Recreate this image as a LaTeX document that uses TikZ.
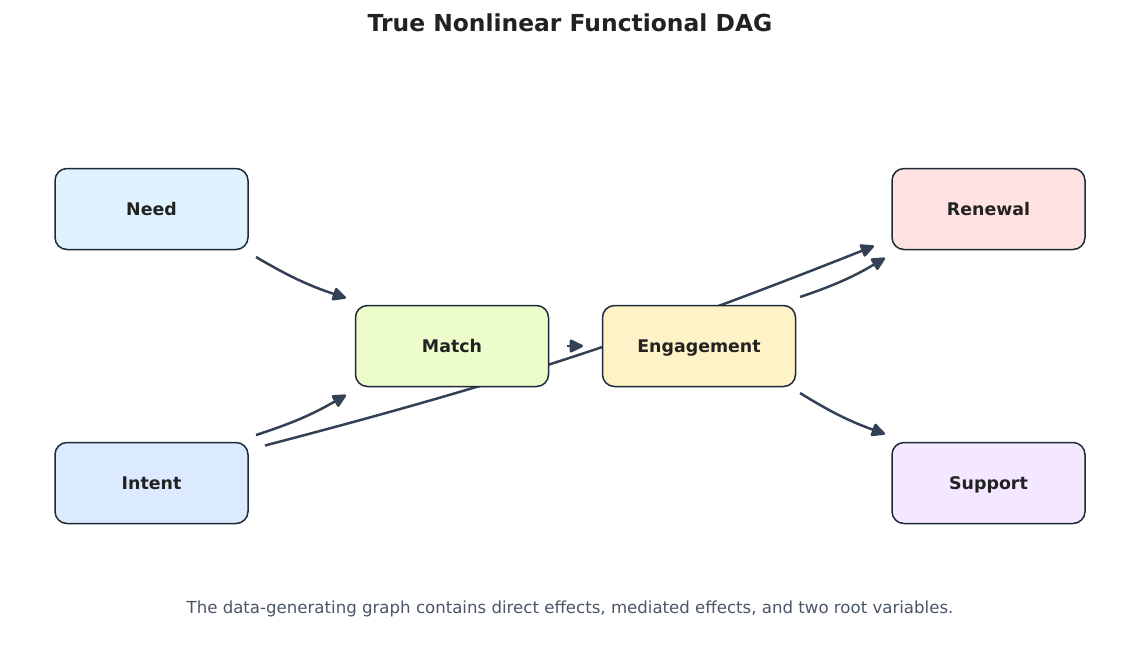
\documentclass[tikz,border=0pt]{standalone}
\usepackage{fontspec}
\setmainfont{DejaVu Sans}
\usetikzlibrary{arrows.meta}
\pgfdeclarelayer{background}
\pgfsetlayers{background,main}
\definecolor{titlec}{HTML}{222222}
\definecolor{capc}{HTML}{4A5568}
\definecolor{edgec}{HTML}{334155}
\definecolor{borderc}{HTML}{1F2937}
\definecolor{needc}{HTML}{E0F2FE}
\definecolor{intentc}{HTML}{DBEAFE}
\definecolor{matchc}{HTML}{ECFCCB}
\definecolor{engc}{HTML}{FEF3C7}
\definecolor{renc}{HTML}{FEE2E2}
\definecolor{supc}{HTML}{F3E8FF}
\tikzset{
  box/.style={draw=borderc, line width=0.75pt, rounded corners=6pt,
    minimum width=96.5pt, minimum height=40.5pt, inner sep=0pt,
    text height=6.35pt, text depth=0pt,
    font=\fontsize{8.7}{10}\selectfont\bfseries, text=titlec},
  arr/.style={draw=edgec, line width=1.25pt,
    -{Triangle[length=7.5pt,width=7pt,round]}}
}
\begin{document}
\begin{tikzpicture}[x=0.5pt,y=-0.5pt]
\useasboundingbox (0,0) rectangle (1140,644);
\node[font=\fontsize{11.7}{14}\selectfont\bfseries, text=titlec] (title) at (570,22.5) {True Nonlinear Functional DAG};
\node[box, fill=needc] (need) at (151.5,209) {Need};
\node[box, fill=intentc] (intent) at (151.5,483) {Intent};
\node[box, fill=matchc] (match) at (452,346) {Match};
\node[box, fill=engc] (eng) at (699,346) {Engagement};
\node[box, fill=renc] (ren) at (988.5,209) {Renewal};
\node[box, fill=supc] (sup) at (988.5,483) {Support};
\node[font=\fontsize{8.3}{10}\selectfont, text=capc] (cap) at (570,608.5) {The data-generating graph contains direct effects, mediated effects, and two root variables.};
\begin{pgfonlayer}{background}
\draw[arr] ([shift={(113.5,-37.5)}]intent.center) to[bend right=3.5] ([shift={(-114.5,37)}]ren.center);
\end{pgfonlayer}
\draw[arr] ([shift={(104.5,48)}]need.center) to[bend right=6] ([shift={(-106,-48)}]match.center);
\draw[arr] ([shift={(104.5,-48)}]intent.center) to[bend right=6] ([shift={(-106,49)}]match.center);
\draw[arr] ([shift={(115,0)}]match.center) -- ([shift={(-116,0)}]eng.center);
\draw[arr] ([shift={(101,-49)}]eng.center) to[bend right=6] ([shift={(-103.5,49)}]ren.center);
\draw[arr] ([shift={(101,47)}]eng.center) to[bend right=6] ([shift={(-103.5,-49)}]sup.center);
\end{tikzpicture}
\end{document}
